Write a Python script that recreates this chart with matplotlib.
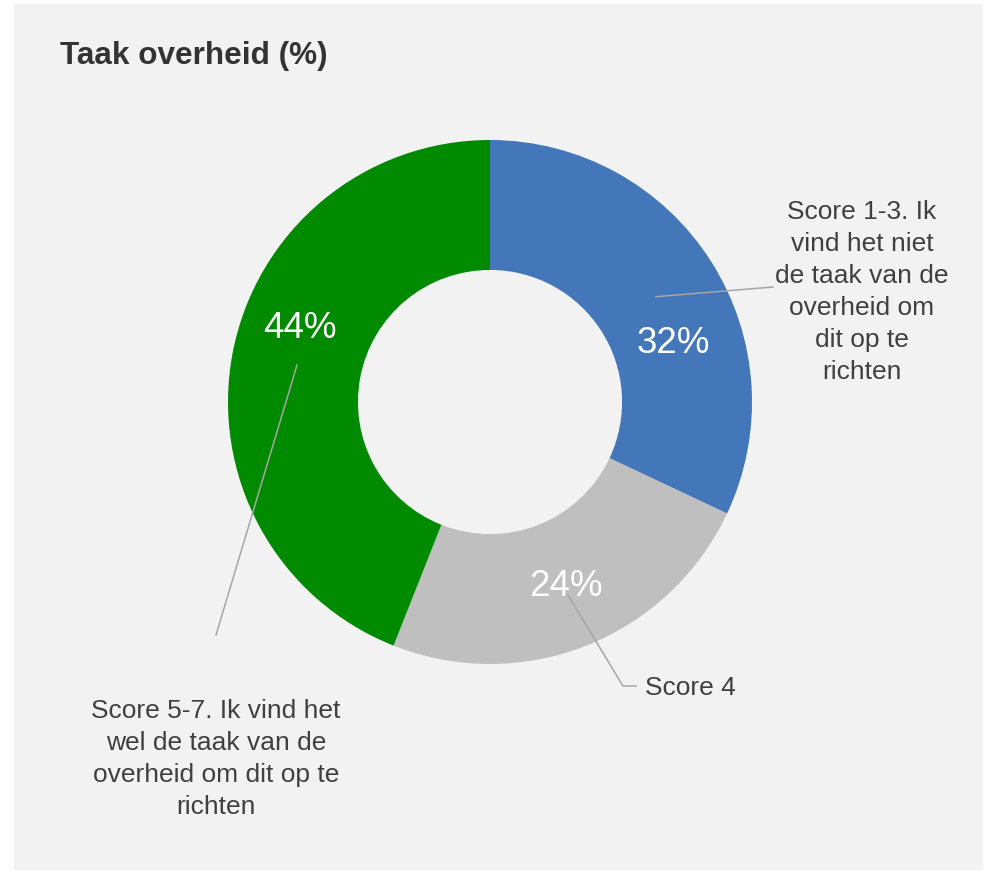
import numpy as np
import matplotlib.pyplot as plt
from matplotlib.patches import Rectangle

plt.rcParams["font.family"] = ["Liberation Sans", "DejaVu Sans"]

title = "Taak overheid (%)"
categories = [
    "Score 1-3. Ik\nvind het niet\nde taak van de\noverheid om\ndit op te\nrichten",
    "Score 4",
    "Score 5-7. Ik vind het\nwel de taak van de\noverheid om dit op te\nrichten",
]
values = [32, 24, 44]
colors = ["#4477b9", "#bfbfbf", "#008a00"]

W, H = 984, 871
CX, CY, R = 490, 402, 262


def px(x, y):
    # pixel position -> data units (pie radius = 1)
    return (x - CX) / R, (CY - y) / R


fig = plt.figure(figsize=(W / 100, H / 100), dpi=100)
fig.patch.set_facecolor("white")
fig.patches.append(Rectangle((14 / W, 1 - 870 / H), (983 - 14) / W, (870 - 4) / H,
                             transform=fig.transFigure, facecolor="#f2f2f2",
                             edgecolor="none", zorder=-1))

ax = fig.add_axes([0, 0, 1, 1])
ax.patch.set_visible(False)

wedges, _ = ax.pie(values, colors=colors, startangle=90, counterclock=False,
                   radius=1, wedgeprops=dict(width=0.496, linewidth=0))
ax.set_aspect("auto")
ax.set_xlim(-CX / R, (W - CX) / R)
ax.set_ylim(-(H - CY) / R, CY / R)
ax.axis("off")

# wedge middles at r = 0.75
cum = np.cumsum([0] + values[:-1])
mid = np.radians(90 - (cum + np.array(values) / 2) / sum(values) * 360)
mx, my = 0.75 * np.cos(mid), 0.75 * np.sin(mid)

pct_pos = [px(673, 343), px(566, 587), px(300, 328)]
for v, (x, y) in zip(values, pct_pos):
    ax.text(x, y, f"{v}%", color="white", fontsize=26.5, ha="center", va="center", zorder=5)

lc = "#a6a6a6"
fs = 19
# Score 1-3
ex, ey = px(773, 287)
ax.plot([mx[0], ex], [my[0], ey], color=lc, lw=1.1, zorder=4)
ax.text(*px(862, 292), categories[0], fontsize=fs, color="#404040",
        ha="center", va="center", linespacing=1.42)
# Score 4
sx, sy = px(568, 595)
bx, by = px(623, 686)
ex, ey = px(636, 686)
ax.plot([sx, bx, ex], [sy, by, ey], color=lc, lw=1.1, zorder=4)
ax.text(*px(645, 688), categories[1], fontsize=fs, color="#404040",
        ha="left", va="center")
# Score 5-7
ex, ey = px(216, 635)
ax.plot([mx[2], ex], [my[2], ey], color=lc, lw=1.1, zorder=4)
ax.text(*px(216, 759), categories[2], fontsize=fs, color="#404040",
        ha="center", va="center", linespacing=1.42)

fig.text(60 / W, 1 - 56 / H, title, fontsize=22.7, fontweight="bold", color="#333333",
         ha="left", va="center")

fig.savefig("out.png", dpi=100, facecolor=fig.get_facecolor())
